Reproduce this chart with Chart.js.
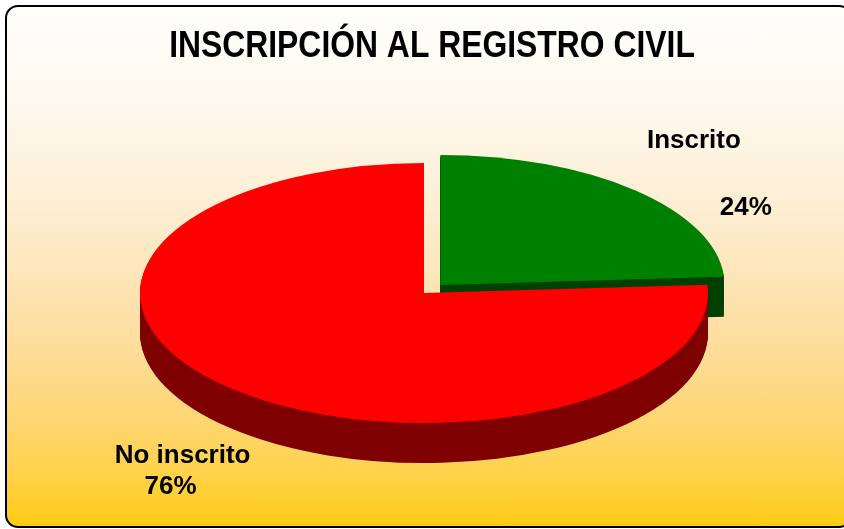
<!DOCTYPE html>
<html>
<head>
<meta charset="utf-8">
<script src="https://cdn.jsdelivr.net/npm/chart.js@4.4.1/dist/chart.umd.min.js"></script>
<style>
  html, body { margin: 0; padding: 0; width: 844px; height: 529px; overflow: hidden; background: #fff; }
  #frame {
    position: absolute; left: 5px; top: 5px; width: 847px; height: 523px;
    box-sizing: border-box; border: 2px solid #000; border-radius: 13px;
    background: linear-gradient(to bottom, #fffefc 0%, #fef8ec 20%, #fdedd0 40%, #fde0a8 60%, #fed882 75%, #ffd24a 90%, #ffcb15 100%);
  }
  #chart { position: absolute; left: 0; top: 0; }
</style>
</head>
<body>
<div id="frame"></div>
<canvas id="chart" width="844" height="529"></canvas>
<script>
const chartTitle = 'INSCRIPCIÓN AL REGISTRO CIVIL';
const categories = ['Inscrito', 'No inscrito'];
const values = [24, 76];
const sliceColors = ['#008000', '#ff0000'];
// chart.js v4 moves an arc by roughly offset / 4
const sliceOffsets = [96, 0];

// fake 3d look: flatten the pie and stack darker copies underneath
const tilt = 0.458;
const depth = 40;

// where the name / percent sit relative to the slice's rim point
const labelLayout = [
    { name: [59, -42], pct: [111, 25] },
    { name: [-47, 75], pct: [-59, 106] }
];

const pie3d = {
    id: 'pie3d',
    beforeDatasetsDraw(chart) {
        const ctx = chart.ctx;
        const arcs = chart.getDatasetMeta(0).data;
        const cy = arcs[0].y;
        for (let i = depth; i > 0; i--) {
            ctx.save();
            ctx.filter = 'brightness(0.5)';
            ctx.translate(0, cy + i);
            ctx.scale(1, tilt);
            ctx.translate(0, -cy);
            arcs.forEach(a => a.draw(ctx));
            ctx.restore();
        }
        ctx.save();
        ctx.translate(0, cy);
        ctx.scale(1, tilt);
        ctx.translate(0, -cy);
    },
    afterDatasetsDraw(chart) {
        chart.ctx.restore();
    }
};

const textPlugin = {
    id: 'texts',
    afterDraw(chart) {
        const ctx = chart.ctx;
        const arcs = chart.getDatasetMeta(0).data;
        const total = values.reduce((a, b) => a + b, 0);

        ctx.save();
        ctx.fillStyle = '#000';
        ctx.textAlign = 'center';
        ctx.textBaseline = 'alphabetic';

        // title, a bit condensed like the original
        ctx.save();
        ctx.font = 'bold 36px "Liberation Sans", Arial, sans-serif';
        ctx.translate(432, 57);
        ctx.scale(0.885, 1);
        ctx.fillText(chartTitle, 0, 0);
        ctx.restore();

        ctx.font = 'bold 26px "Liberation Sans", Arial, sans-serif';
        arcs.forEach((arc, i) => {
            const mid = (arc.startAngle + arc.endAngle) / 2;
            const fix = 1 - Math.sin(Math.min(Math.PI, arc.circumference));
            const r = arc.outerRadius + (arc.options.offset || 0) / 4 * (1 + fix);
            const ax = arc.x + Math.cos(mid) * r;
            const ay = arc.y + Math.sin(mid) * r * tilt;
            const l = labelLayout[i];
            ctx.fillText(categories[i], ax + l.name[0], ay + l.name[1]);
            ctx.fillText(Math.round(values[i] / total * 100) + '%', ax + l.pct[0], ay + l.pct[1]);
        });
        ctx.restore();
    }
};

new Chart(document.getElementById('chart'), {
    type: 'pie',
    data: {
        labels: categories,
        datasets: [{
            data: values,
            backgroundColor: sliceColors,
            offset: sliceOffsets,
            borderWidth: 0,
            hoverOffset: 0,
            clip: false
        }]
    },
    options: {
        responsive: false,
        animation: false,
        events: [],
        radius: 284,
        layout: { padding: { left: 4, right: 0, top: 57, bottom: 0 } },
        plugins: {
            legend: { display: false },
            title: { display: false },
            tooltip: { enabled: false }
        }
    },
    plugins: [pie3d, textPlugin]
});
</script>
</body>
</html>
